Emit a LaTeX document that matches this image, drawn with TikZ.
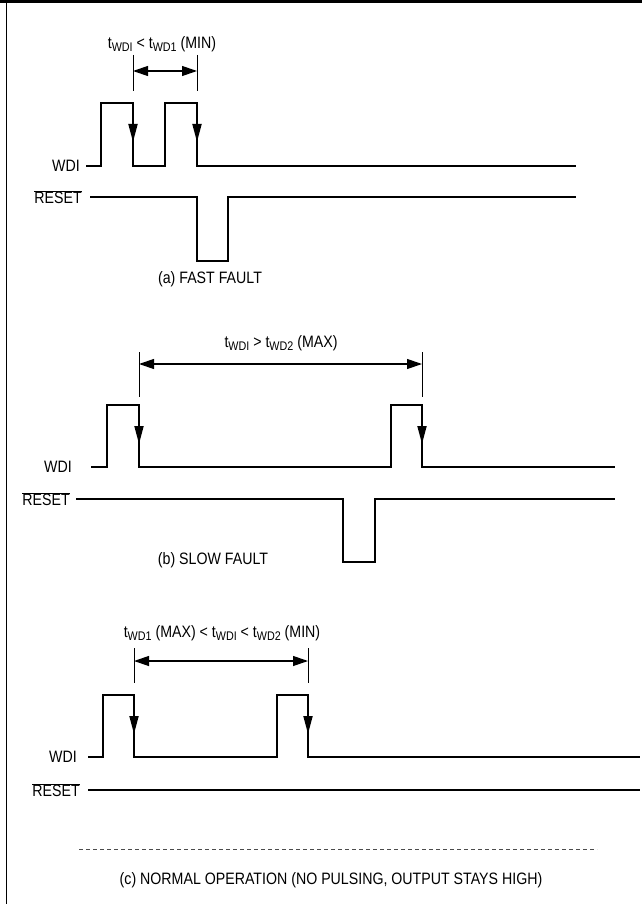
\documentclass[tikz,border=0pt]{standalone}
\usepackage{fontspec}
\setmainfont[FakeStretch=0.86]{Liberation Sans}
\usetikzlibrary{arrows.meta}
\newcommand\ovl[1]{$\overline{\mbox{#1}}$}
\newcommand\sbs[1]{\raisebox{-2.8pt}{\fontsize{12.5}{13}\selectfont #1}}
\begin{document}
\begin{tikzpicture}[x=1pt,y=-1pt,
  txt/.style={inner sep=0pt,font=\fontsize{16.5}{19}\selectfont},
  wave/.style={line width=1.2pt},
  fall/.style={line width=1.8pt,-{Triangle[length=18pt,width=9pt]}},
  dimline/.style={line width=0.9pt},
  dimarrow/.style={line width=1.2pt,{Triangle[length=15pt,width=10pt]}-{Triangle[length=15pt,width=10pt]}},
  sep/.style={line width=0.8pt,dashed,dash pattern=on 4pt off 3pt,black!70}]
\useasboundingbox (0,0) rectangle (642,904);
% border
\draw[line width=2.7pt] (0,1.35) -- (642,1.35);
\draw[line width=1.8pt] (6.5,0) -- (6.5,904);

% ===== (a) =====
\node[txt] (la) at (162,44) {t\sbs{WDI} < t\sbs{WD1} (MIN)};
\coordinate (a1t) at (133,55); \coordinate (a1b) at (133,91);
\coordinate (a2t) at (197,55); \coordinate (a2b) at (197,91);
\draw[dimline] (a1t) -- (a1b); \draw[dimline] (a2t) -- (a2b);
\draw[dimarrow] (133,71) coordinate (ad1) -- (197,71) coordinate (ad2);
\node[txt,anchor=east] (wa) at (80,166) {WDI};
\node[txt,anchor=east] (ra) at (82,197) {\ovl{RESET}};
\draw[wave] (86,166) -- (101,166) -- (101,103) -- (133,103) -- (133,166) -- (165,166)
  -- (165,103) -- (197,103) -- (197,166) -- (576,166);
\draw[fall] (133,103) coordinate (af1) -- (133,142) coordinate (af1t);
\draw[fall] (197,103) coordinate (af2) -- (197,142) coordinate (af2t);
\draw[wave] (90,197) -- (197,197) -- (197,261) -- (228,261) -- (228,197) -- (576,197);
\node[txt] (ca) at (210,279) {(a) FAST FAULT};

% ===== (b) =====
\node[txt] (lb) at (281,343) {t\sbs{WDI} > t\sbs{WD2} (MAX)};
\draw[dimline] (139,352) coordinate (b1t) -- (139,397) coordinate (b1b);
\draw[dimline] (422,352) coordinate (b2t) -- (422,397) coordinate (b2b);
\draw[dimarrow] (139,364) coordinate (bd1) -- (422,364) coordinate (bd2);
\node[txt,anchor=east] (wb) at (72,467) {WDI};
\node[txt,anchor=east] (rb) at (70,499) {\ovl{RESET}};
\draw[wave] (91,467) -- (107,467) -- (107,405) -- (139,405) -- (139,467) -- (391,467)
  -- (391,405) -- (422,405) -- (422,467) -- (615,467);
\draw[fall] (139,405) coordinate (bf1) -- (139,444) coordinate (bf1t);
\draw[fall] (422,405) coordinate (bf2) -- (422,444) coordinate (bf2t);
\draw[wave] (76,499) -- (343,499) -- (343,562) -- (375,562) -- (375,499) -- (615,499);
\node[txt] (cb) at (213,560) {(b) SLOW FAULT};

% ===== (c) =====
\node[txt] (lc) at (222,633) {t\sbs{WD1} (MAX) < t\sbs{WDI} < t\sbs{WD2} (MIN)};
\draw[dimline] (134,648) coordinate (c1t) -- (134,683) coordinate (c1b);
\draw[dimline] (308,648) coordinate (c2t) -- (308,683) coordinate (c2b);
\draw[dimarrow] (134,661) coordinate (cd1) -- (308,661) coordinate (cd2);
\node[txt,anchor=east] (wc) at (77,757) {WDI};
\node[txt,anchor=east] (rc) at (80,790) {\ovl{RESET}};
\draw[wave] (88,757) -- (103,757) -- (103,695) -- (134,695) -- (134,757) -- (277,757)
  -- (277,695) -- (308,695) -- (308,757) -- (640,757);
\draw[fall] (134,695) coordinate (cf1) -- (134,734) coordinate (cf1t);
\draw[fall] (308,695) coordinate (cf2) -- (308,734) coordinate (cf2t);
\draw[wave] (88,790) -- (640,790);
\draw[sep] (79,849) coordinate (s1) -- (597,849) coordinate (s2);
\node[txt] (cc) at (331,880) {(c) NORMAL OPERATION (NO PULSING, OUTPUT STAYS HIGH)};
\end{tikzpicture}
\end{document}
